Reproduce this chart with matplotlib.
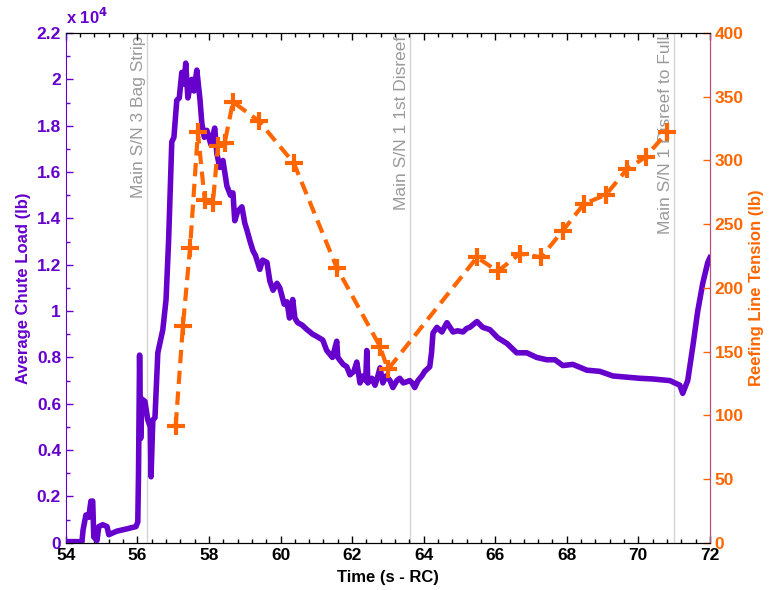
import matplotlib
matplotlib.use("Agg")
import matplotlib.pyplot as plt
import numpy as np
from matplotlib.ticker import MultipleLocator, FuncFormatter

PURPLE = "#6600CC"
ORANGE = "#FF6600"
GRAY_LINE = "#D4D4D4"
GRAY_TEXT = "#9A9A9A"

# average chute load, in units of 1e4 lb
LOAD_TIME = [
    54.00, 54.45, 54.48, 54.56, 54.64, 54.70, 54.75, 54.78, 54.87, 54.92,
    55.03, 55.15, 55.20, 55.42, 55.70, 55.96, 56.01, 56.03, 56.06, 56.09,
    56.13, 56.21, 56.29, 56.36, 56.38, 56.43, 56.49, 56.57, 56.71, 56.80,
    56.87, 56.96, 57.02, 57.10, 57.17, 57.24, 57.30, 57.35, 57.41, 57.47,
    57.52, 57.58, 57.66, 57.75, 57.80, 57.87, 57.94, 58.05, 58.16, 58.22,
    58.30, 58.39, 58.50, 58.60, 58.67, 58.72, 58.80, 58.92, 59.00, 59.06,
    59.15, 59.23, 59.30, 59.42, 59.50, 59.62, 59.70, 59.79, 59.90, 59.98,
    60.10, 60.18, 60.25, 60.34, 60.40, 60.48, 60.60, 60.74, 60.90, 61.02,
    61.18, 61.29, 61.45, 61.57, 61.60, 61.75, 61.85, 61.94, 62.05, 62.13,
    62.22, 62.30, 62.38, 62.41, 62.44, 62.55, 62.64, 62.72, 62.78, 62.86,
    62.95, 63.06, 63.14, 63.25, 63.33, 63.43, 63.53, 63.61, 63.68, 63.75,
    63.84, 63.95, 64.03, 64.17, 64.22, 64.26, 64.37, 64.51, 64.65, 64.82,
    64.95, 65.10, 65.20, 65.29, 65.49, 65.65, 65.85, 66.07, 66.33, 66.60,
    66.88, 67.16, 67.44, 67.67, 67.89, 68.17, 68.56, 68.92, 69.29, 69.68,
    70.04, 70.41, 70.88, 71.02, 71.16, 71.24, 71.38, 71.52, 71.66, 71.80,
    71.94, 72.00,
]
LOAD_VALUE = [
    0.005, 0.005, 0.055, 0.12, 0.11, 0.18, 0.18, 0.025, 0.01, 0.07,
    0.078, 0.07, 0.035, 0.05, 0.06, 0.07, 0.09, 0.30, 0.81, 0.45,
    0.62, 0.61, 0.53, 0.50, 0.285, 0.53, 0.54, 0.82, 0.92, 1.05,
    1.30, 1.73, 1.75, 1.91, 1.92, 2.03, 1.98, 2.07, 1.92, 1.97,
    2.00, 1.95, 2.04, 1.91, 1.81, 1.75, 1.78, 1.72, 1.79, 1.68,
    1.62, 1.65, 1.54, 1.50, 1.51, 1.39, 1.43, 1.45, 1.38, 1.35,
    1.30, 1.26, 1.24, 1.18, 1.22, 1.21, 1.13, 1.09, 1.12, 1.10,
    1.03, 1.04, 0.97, 1.05, 0.97, 0.95, 0.94, 0.92, 0.90, 0.89,
    0.875, 0.83, 0.80, 0.87, 0.80, 0.77, 0.76, 0.725, 0.74, 0.78,
    0.69, 0.72, 0.70, 0.83, 0.69, 0.71, 0.68, 0.72, 0.755, 0.69,
    0.72, 0.70, 0.67, 0.70, 0.71, 0.69, 0.695, 0.70, 0.69, 0.67,
    0.70, 0.72, 0.74, 0.76, 0.82, 0.905, 0.93, 0.91, 0.95, 0.91,
    0.915, 0.91, 0.925, 0.93, 0.955, 0.93, 0.92, 0.885, 0.86, 0.82,
    0.82, 0.80, 0.79, 0.79, 0.765, 0.77, 0.745, 0.74, 0.72, 0.715,
    0.71, 0.707, 0.70, 0.69, 0.68, 0.645, 0.70, 0.845, 1.00, 1.12,
    1.21, 1.23,
]

# reefing line tension, lb
TENSION_TIME = [
    57.07, 57.27, 57.47, 57.69, 57.88, 58.11, 58.25, 58.44, 58.67, 59.39,
    60.37, 61.57, 62.78, 63.00, 65.49, 66.07, 66.69, 67.28, 67.89, 68.48,
    69.09, 69.68, 70.21, 70.80,
]
TENSION_VALUE = [
    92, 170, 231, 322, 269, 267, 311, 314, 346, 331,
    298, 216, 154, 136, 224, 213, 227, 224, 245, 266,
    273, 293, 303, 322,
]

EVENT_TIME = [56.26, 63.61, 70.99]
EVENT_LABEL = ["Main S/N 3 Bag Strip", "Main S/N 1 1st Disreef", "Main S/N 1 Disreef to Full"]


def MAIN():
    plt.rcParams["font.family"] = ["Liberation Sans", "DejaVu Sans"]
    FIG = plt.figure(figsize=(7.75, 5.9), dpi=100)
    AX1 = FIG.add_axes([0.085, 0.08, 0.831, 0.864])

    for T, LABEL in zip(EVENT_TIME, EVENT_LABEL):
        AX1.axvline(T, color=GRAY_LINE, lw=1.0, zorder=1)
        AX1.text(T - 0.02, 2.19, LABEL, rotation=90, ha="right", va="top",
                 color=GRAY_TEXT, fontsize=12.5, zorder=1)

    AX1.plot(LOAD_TIME, LOAD_VALUE, color=PURPLE, lw=4, zorder=3,
             solid_joinstyle="round")
    AX1.set_xlim(54, 72)
    AX1.set_ylim(0, 2.2)
    AX1.xaxis.set_major_locator(MultipleLocator(2))
    AX1.xaxis.set_minor_locator(MultipleLocator(0.4))
    AX1.yaxis.set_major_locator(MultipleLocator(0.2))
    AX1.yaxis.set_minor_locator(MultipleLocator(0.1))
    AX1.yaxis.set_major_formatter(FuncFormatter(lambda V, P: f"{V:g}"))
    AX1.tick_params(axis="x", which="both", direction="in", top=True, colors="black",
                    labelsize=12.5)
    AX1.tick_params(axis="y", which="both", direction="in", right=True, colors=PURPLE,
                    labelsize=12.5)
    AX1.tick_params(which="major", length=5, width=1)
    AX1.tick_params(which="minor", length=3, width=1)
    for LBL in AX1.get_xticklabels() + AX1.get_yticklabels():
        LBL.set_fontweight("bold")
    AX1.spines["left"].set_color(PURPLE)
    AX1.spines["right"].set_color("#B8507A")
    AX1.set_xlabel("Time (s - RC)", fontsize=12, fontweight="bold", labelpad=5)
    AX1.set_ylabel("Average Chute Load (lb)", fontsize=12, fontweight="bold",
                   color=PURPLE, labelpad=4)
    AX1.text(0.0, 1.012, r"x 10$^{\mathbf{4}}$", transform=AX1.transAxes, color=PURPLE,
             fontsize=12, fontweight="bold", ha="left", va="bottom")

    AX2 = AX1.twinx()
    AX2.plot(TENSION_TIME, TENSION_VALUE, color=ORANGE, lw=3, ls=(0, (3.2, 1.8)),
             marker="+", ms=13, mew=3, zorder=4)
    AX2.set_ylim(0, 400)
    AX2.yaxis.set_major_locator(MultipleLocator(50))
    AX2.tick_params(axis="y", direction="in", colors=ORANGE, labelsize=12.5,
                    length=5, width=1)
    for LBL in AX2.get_yticklabels():
        LBL.set_fontweight("bold")
    AX2.spines["right"].set_color("#B8507A")
    AX2.spines["left"].set_visible(False)
    AX2.set_ylabel("Reefing Line Tension (lb)", fontsize=12, fontweight="bold",
                   color=ORANGE, labelpad=4)

    FIG.savefig("out.png", dpi=100)


if __name__ == "__main__":
    MAIN()
